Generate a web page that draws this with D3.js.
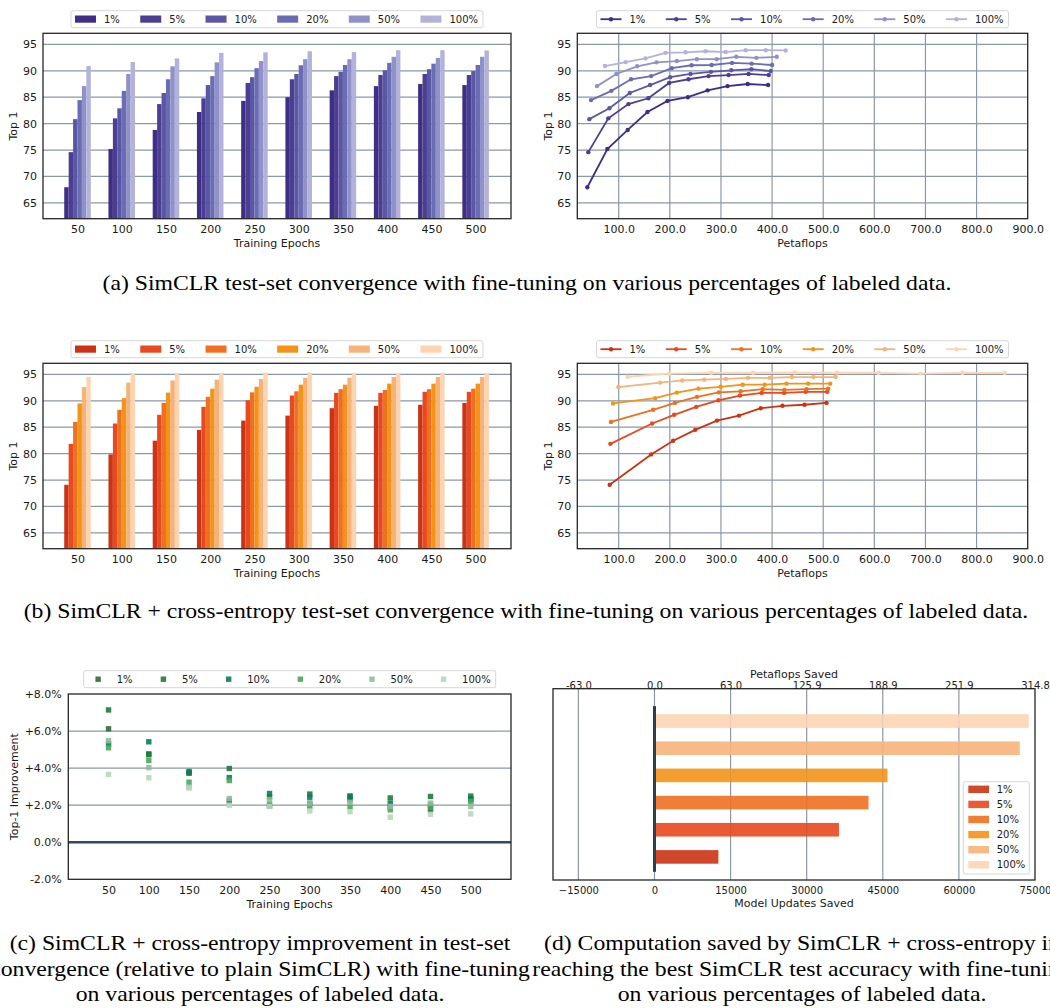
<!DOCTYPE html>
<html>
<head>
<meta charset="utf-8">
<script src="https://cdn.jsdelivr.net/npm/d3@7"></script>
<style>
  body { margin: 0; background: #fff; }
  .caption text { font-family: "Liberation Serif", "Times New Roman", Times, serif; }
</style>
</head>
<body>
<script>
// ---- data ----
const epochs = [50, 100, 150, 200, 250, 300, 350, 400, 450, 500];
const pctLabels = ["1%", "5%", "10%", "20%", "50%", "100%"];

// (a) SimCLR top-1 per fine-tuning percentage
const simclr1 = [67.96, 75.2, 78.8, 82.2, 84.3, 85.0, 86.3, 87.1, 87.5, 87.3];
const simclr5 = [74.6, 81.0, 83.7, 84.8, 87.7, 88.4, 89.0, 89.2, 89.4, 89.2];
const simclr10 = [80.85, 82.9, 85.8, 87.3, 88.8, 89.4, 89.8, 90.1, 90.3, 89.95];
const simclr20 = [84.45, 86.2, 88.4, 89.0, 90.5, 91.05, 91.1, 91.5, 91.35, 91.1];
const simclr50 = [87.1, 89.4, 90.85, 91.6, 91.85, 92.2, 92.2, 92.65, 92.45, 92.65];
const simclr100 = [90.9, 91.65, 92.35, 93.4, 93.5, 93.7, 93.55, 93.9, 93.9, 93.85];

// (a) petaflops at each checkpoint
const simclrFlops1 = [38.6, 77.8, 117.6, 156.2, 195.4, 235.3, 273.9, 313, 352.3, 392.2];
const simclrFlops5 = [40.5, 79.7, 119, 158, 198.7, 236.6, 275.8, 315, 354, 393.5];
const simclrFlops10 = [42.5, 81.7, 121.6, 161.4, 200.7, 240.5, 280.4, 320.3, 359.5, 397.4];
const simclrFlops20 = [45.8, 85.6, 124.2, 163.4, 203.9, 242.5, 281.7, 321.6, 360.1, 400];
const simclrFlops50 = [57.5, 95.4, 136, 173.9, 213.7, 252.9, 291.5, 330, 369.3, 409.2];
const simclrFlops100 = [73.2, 113.7, 152.3, 191.5, 230.7, 269.9, 309.2, 348.4, 387.6, 426.8];

// (b) SimCLR + cross-entropy top-1
const ce1 = [74.1, 79.85, 82.45, 84.5, 86.25, 87.2, 88.6, 89.05, 89.25, 89.6];
const ce5 = [81.85, 85.7, 87.35, 88.85, 90.1, 91.0, 91.5, 91.5, 91.7, 91.7];
const ce10 = [86.0, 88.3, 89.6, 90.75, 91.6, 91.8, 92.2, 92.05, 92.2, 92.3];
const ce20 = [89.5, 90.5, 91.55, 92.3, 92.65, 93.05, 93.05, 93.25, 93.25, 93.25];
const ce50 = [92.6, 93.45, 93.85, 94.0, 94.15, 94.35, 94.35, 94.5, 94.5, 94.5];
const ce100 = [94.55, 95.15, 95.3, 95.3, 95.35, 95.35, 95.3, 95.15, 95.3, 95.3];

const ceFlops1 = [82.4, 163.4, 206.5, 249.7, 292.2, 335.3, 377.8, 420.3, 463.4, 506.5];
const ceFlops5 = [83.7, 165.4, 208.5, 251.6, 294.8, 337.3, 379.7, 423.5, 466, 507.8];
const ceFlops10 = [85, 167.3, 209.8, 253, 296, 338.6, 381.7, 424.2, 467.3, 509.8];
const ceFlops20 = [88.9, 171.2, 213.7, 256.2, 299.3, 342.5, 385.6, 428.1, 470.6, 513.7];
const ceFlops50 = [99.3, 181, 224.2, 267.3, 309.8, 352.9, 395.4, 438.6, 481, 524.2];
const ceFlops100 = [117, 198.7, 281, 362.7, 444.4, 526.8, 608.5, 690.8, 772.5, 854.9];

// (c) top-1 improvement (%)
const gain1 = [6.12, 4.77, 3.73, 2.22, 1.95, 2.1, 2.3, 1.9, 1.75, 2.3];
const gain5 = [7.14, 4.72, 3.75, 3.98, 2.45, 2.6, 2.5, 2.39, 2.47, 2.49];
const gain10 = [5.31, 5.42, 3.82, 3.49, 2.63, 2.43, 2.45, 2.1, 2.0, 2.35];
const gain20 = [5.10, 4.41, 3.24, 3.33, 2.05, 1.93, 1.93, 1.75, 1.89, 2.2];
const gain50 = [5.48, 4.03, 3.0, 2.36, 2.29, 2.11, 2.15, 1.93, 2.11, 1.93];
const gain100 = [3.66, 3.48, 2.92, 2.0, 1.93, 1.69, 1.65, 1.35, 1.51, 1.53];

// (d) model updates saved
const updatesSaved = [12600, 36360, 42190, 45930, 71990, 73760];
const updateTicks = [-15000, 0, 15000, 30000, 45000, 60000, 75000];
const petaflopTickLabels = ["-63.0", "0.0", "63.0", "125.9", "188.9", "251.9", "314.8"];

const top1Ticks = [65, 70, 75, 80, 85, 90, 95];
const flopTicks = [100, 200, 300, 400, 500, 600, 700, 800, 900];
const gainTicks = [-2, 0, 2, 4, 6, 8];

const captionA = "(a) SimCLR test-set convergence with fine-tuning on various percentages of labeled data.";
const captionB = "(b) SimCLR + cross-entropy test-set convergence with fine-tuning on various percentages of labeled data.";
const captionC = ["(c) SimCLR + cross-entropy improvement in test-set",
                  "convergence (relative to plain SimCLR) with fine-tuning",
                  "on various percentages of labeled data."];
const captionD = ["(d) Computation saved by SimCLR + cross-entropy in",
                  "reaching the best SimCLR test accuracy with fine-tuning",
                  "on various percentages of labeled data."];

// ---- colours ----
const purples = ["#3f2e86", "#4c3f92", "#5a58a4", "#6a6db3", "#8f91c8", "#b3b2da"];
const oranges = ["#cc3315", "#e8491f", "#ef7021", "#f39318", "#f7b27a", "#fdd4b2"];
const greens = ["#2d6b3c", "#1e7b3c", "#087e5c", "#4ca657", "#8fbb9c", "#b8d6bc"];

const gridColor = "#8a99a8";
const frameColor = "#262626";
const textColor = "#1a1a1a";
const font = "DejaVu Sans, sans-serif";

const width = 1050, height = 1008;
const svg = d3.select("body").append("svg")
    .attr("width", width)
    .attr("height", height)
    .style("background", "#fff");

// ---- helpers ----
function styleAxis(sel, size) {
    sel.attr("font-family", font).attr("font-size", size);
    sel.select(".domain").remove();
    sel.selectAll(".tick line").remove();
    sel.selectAll("text").attr("fill", textColor);
}

function frame(g, box) {
    g.append("rect")
        .attr("x", box.x0).attr("y", box.y0)
        .attr("width", box.x1 - box.x0).attr("height", box.y1 - box.y0)
        .attr("fill", "none").attr("stroke", frameColor).attr("stroke-width", 1.3);
}

function hGrid(g, box, y, ticks) {
    g.append("g").selectAll("line").data(ticks).enter().append("line")
        .attr("x1", box.x0).attr("x2", box.x1)
        .attr("y1", d => y(d)).attr("y2", d => y(d))
        .attr("stroke", gridColor).attr("stroke-width", 1.2);
}

function vGrid(g, box, x, ticks) {
    g.append("g").selectAll("line").data(ticks).enter().append("line")
        .attr("y1", box.y0).attr("y2", box.y1)
        .attr("x1", d => x(d)).attr("x2", d => x(d))
        .attr("stroke", gridColor).attr("stroke-width", 1.2);
}

function yTitle(g, text, x, y) {
    g.append("text")
        .attr("transform", "translate(" + x + "," + y + ") rotate(-90)")
        .attr("text-anchor", "middle").attr("dy", "0.35em")
        .attr("font-family", font).attr("font-size", 11).attr("fill", textColor)
        .text(text);
}

function xTitle(g, text, x, y) {
    g.append("text")
        .attr("x", x).attr("y", y)
        .attr("text-anchor", "middle").attr("dy", "0.35em")
        .attr("font-family", font).attr("font-size", 11).attr("fill", textColor)
        .text(text);
}

// horizontal legend row, centred on cx
function hLegend(g, cx, top, colors, kind) {
    const lg = g.append("g");
    let x = 4;
    pctLabels.forEach((p, i) => {
        const it = lg.append("g").attr("transform", "translate(" + x + ",0)");
        if (kind === "rect") {
            it.append("rect").attr("x", 0).attr("y", 4.8).attr("width", 21).attr("height", 7.2)
                .attr("fill", colors[i]);
        } else if (kind === "line") {
            it.append("line").attr("x1", 0).attr("x2", 21).attr("y1", 8.5).attr("y2", 8.5)
                .attr("stroke", colors[i]).attr("stroke-width", 1.8);
            it.append("circle").attr("cx", 10.5).attr("cy", 8.5).attr("r", 2.2).attr("fill", colors[i]);
        } else {
            it.append("rect").attr("x", 10.5 - 2.7).attr("y", 8.5 - 2.7).attr("width", 5.4).attr("height", 5.4)
                .attr("fill", colors[i]).attr("opacity", 0.9);
        }
        const t = it.append("text").attr("x", 29).attr("y", 8.5).attr("dy", "0.35em")
            .attr("font-family", font).attr("font-size", 10).attr("fill", textColor).text(p);
        x += 29 + t.node().getComputedTextLength() + (i < pctLabels.length - 1 ? 20.4 : 5);
    });
    lg.insert("rect", ":first-child")
        .attr("width", x).attr("height", 17).attr("rx", 2)
        .attr("fill", "#fff").attr("stroke", "#cccccc").attr("stroke-width", 0.8);
    lg.attr("transform", "translate(" + (cx - x / 2) + "," + top + ")");
}

// ---- bar panel (training epochs) ----
function barPanel(box, series, colors, legendTop) {
    const g = svg.append("g");
    const x = d3.scaleLinear().domain([-0.78, 9.8]).range([box.x0, box.x1]);
    const y = d3.scaleLinear().domain([62, 97.1]).range([box.y1, box.y0]);
    const bw = 0.1;

    hGrid(g, box, y, top1Ticks);

    series.forEach((vals, k) => {
        g.append("g").selectAll("rect").data(vals).enter().append("rect")
            .attr("x", (d, i) => x(i + (k - 3) * bw))
            .attr("width", x(bw) - x(0))
            .attr("y", d => y(d))
            .attr("height", d => box.y1 - y(d))
            .attr("fill", colors[k]);
    });

    frame(g, box);

    g.append("g").attr("transform", "translate(" + box.x0 + ",0)")
        .call(d3.axisLeft(y).tickValues(top1Ticks).tickSize(0).tickPadding(6))
        .call(s => styleAxis(s, 11));
    g.append("g").attr("transform", "translate(0," + box.y1 + ")")
        .call(d3.axisBottom(x).tickValues(d3.range(epochs.length)).tickFormat(i => epochs[i]).tickSize(0).tickPadding(7))
        .call(s => styleAxis(s, 11));

    yTitle(g, "Top 1", box.x0 - 29.7, (box.y0 + box.y1) / 2);
    xTitle(g, "Training Epochs", (box.x0 + box.x1) / 2, box.y1 + 24.6);
    hLegend(g, (box.x0 + box.x1) / 2, legendTop, colors, "rect");
}

// ---- line panel (petaflops) ----
function linePanel(box, series, flops, colors, legendTop) {
    const g = svg.append("g");
    const x = d3.scaleLinear().domain([19, 900]).range([box.x0, box.x1]);
    const y = d3.scaleLinear().domain([62, 97.1]).range([box.y1, box.y0]);

    hGrid(g, box, y, top1Ticks);
    vGrid(g, box, x, flopTicks.slice(0, -1));

    series.forEach((vals, k) => {
        const pts = vals.map((v, i) => [flops[k][i], v]);
        g.append("path")
            .attr("d", d3.line().x(d => x(d[0])).y(d => y(d[1]))(pts))
            .attr("fill", "none").attr("stroke", colors[k]).attr("stroke-width", 1.8);
        g.append("g").selectAll("circle").data(pts).enter().append("circle")
            .attr("cx", d => x(d[0])).attr("cy", d => y(d[1])).attr("r", 2.2)
            .attr("fill", colors[k]);
    });

    frame(g, box);

    g.append("g").attr("transform", "translate(" + box.x0 + ",0)")
        .call(d3.axisLeft(y).tickValues(top1Ticks).tickSize(0).tickPadding(6))
        .call(s => styleAxis(s, 11));
    g.append("g").attr("transform", "translate(0," + box.y1 + ")")
        .call(d3.axisBottom(x).tickValues(flopTicks).tickFormat(d3.format(".1f")).tickSize(0).tickPadding(7))
        .call(s => styleAxis(s, 11));

    yTitle(g, "Top 1", box.x0 - 29, (box.y0 + box.y1) / 2);
    xTitle(g, "Petaflops", (box.x0 + box.x1) / 2, box.y1 + 24);
    hLegend(g, (box.x0 + box.x1) / 2, legendTop, colors, "line");
}

// ---- scatter panel (improvement) ----
function gainPanel(box, series, colors, legendTop) {
    const g = svg.append("g");
    const x = d3.scaleLinear().domain([0, 550]).range([box.x0, box.x1]);
    const y = d3.scaleLinear().domain([-2, 8]).range([box.y1, box.y0]);

    hGrid(g, box, y, [2, 4, 6]);
    g.append("line")
        .attr("x1", box.x0).attr("x2", box.x1).attr("y1", y(0)).attr("y2", y(0))
        .attr("stroke", "#34495a").attr("stroke-width", 2.6);

    const s = 5.4;
    series.forEach((vals, k) => {
        g.append("g").selectAll("rect").data(vals).enter().append("rect")
            .attr("x", (d, i) => x(epochs[i]) - s / 2)
            .attr("y", d => y(d) - s / 2)
            .attr("width", s).attr("height", s)
            .attr("fill", colors[k]).attr("opacity", 0.9);
    });

    frame(g, box);

    const fmt = d => (d > 0 ? "+" : d < 0 ? "-" : "") + Math.abs(d).toFixed(1) + "%";
    g.append("g").attr("transform", "translate(" + box.x0 + ",0)")
        .call(d3.axisLeft(y).tickValues(gainTicks).tickFormat(fmt).tickSize(0).tickPadding(6.5))
        .call(a => styleAxis(a, 11));
    g.append("g").attr("transform", "translate(0," + box.y1 + ")")
        .call(d3.axisBottom(x).tickValues(epochs).tickSize(0).tickPadding(7))
        .call(a => styleAxis(a, 11));

    yTitle(g, "Top-1 Improvement", box.x0 - 54.3, (box.y0 + box.y1) / 2);
    xTitle(g, "Training Epochs", (box.x0 + box.x1) / 2, box.y1 + 24.7);
    hLegend(g, (box.x0 + box.x1) / 2, legendTop, colors, "square");
}

// ---- horizontal bar panel (computation saved) ----
function savedPanel(box, vals, colors) {
    const g = svg.append("g");
    const x = d3.scaleLinear().domain([-20000, 75000]).range([box.x0, box.x1]);
    const y = d3.scaleLinear().domain([-0.85, 6.19]).range([box.y1, box.y0]);
    const bh = 0.5;

    vGrid(g, box, x, updateTicks.slice(0, -1));

    g.append("g").selectAll("rect").data(vals).enter().append("rect")
        .attr("x", x(0))
        .attr("width", d => x(d) - x(0))
        .attr("y", (d, i) => y(i + bh / 2))
        .attr("height", y(0) - y(bh))
        .attr("fill", (d, i) => colors[i]).attr("opacity", 0.9);

    g.append("line")
        .attr("x1", x(0)).attr("x2", x(0)).attr("y1", y(5.55)).attr("y2", y(-0.55))
        .attr("stroke", "#2c3f4c").attr("stroke-width", 3);

    frame(g, box);

    g.append("g").attr("transform", "translate(0," + box.y1 + ")")
        .call(d3.axisBottom(x).tickValues(updateTicks).tickFormat(d3.format("d")).tickSize(0).tickPadding(6.5))
        .call(a => styleAxis(a, 10));
    g.append("g").attr("transform", "translate(0," + box.y0 + ")")
        .call(d3.axisTop(x).tickValues(updateTicks).tickFormat((d, i) => petaflopTickLabels[i]).tickSize(0).tickPadding(0))
        .call(a => styleAxis(a, 10));

    xTitle(g, "Model Updates Saved", (box.x0 + box.x1) / 2, box.y1 + 23);
    xTitle(g, "Petaflops Saved", (box.x0 + box.x1) / 2, box.y0 - 14.5);

    // vertical legend, lower right
    const lg = g.append("g").attr("transform", "translate(963.3,781.7)");
    lg.append("rect").attr("width", 66).attr("height", 92.3).attr("rx", 2)
        .attr("fill", "#fff").attr("fill-opacity", 0.85).attr("stroke", "#cccccc").attr("stroke-width", 0.8);
    pctLabels.forEach((p, i) => {
        const cy = 7.6 + i * 15.1;
        lg.append("rect").attr("x", 5).attr("y", cy - 3.7).attr("width", 20.7).attr("height", 7.4)
            .attr("fill", colors[i]).attr("opacity", 0.9);
        lg.append("text").attr("x", 33.4).attr("y", cy).attr("dy", "0.35em")
            .attr("font-family", font).attr("font-size", 10).attr("fill", textColor).text(p);
    });
}

// ---- draw panels ----
barPanel({x0: 43, x1: 511, y0: 33.3, y1: 218.7},
    [simclr1, simclr5, simclr10, simclr20, simclr50, simclr100], purples, 10.7);
linePanel({x0: 577.3, x1: 1027.7, y0: 33.3, y1: 218.7},
    [simclr1, simclr5, simclr10, simclr20, simclr50, simclr100],
    [simclrFlops1, simclrFlops5, simclrFlops10, simclrFlops20, simclrFlops50, simclrFlops100], purples, 10.7);
barPanel({x0: 43, x1: 511, y0: 363.3, y1: 548.7},
    [ce1, ce5, ce10, ce20, ce50, ce100], oranges, 340.7);
linePanel({x0: 577.3, x1: 1027.7, y0: 363.3, y1: 548.7},
    [ce1, ce5, ce10, ce20, ce50, ce100],
    [ceFlops1, ceFlops5, ceFlops10, ceFlops20, ceFlops50, ceFlops100], oranges, 340.7);
gainPanel({x0: 68.3, x1: 511, y0: 694, y1: 879.3},
    [gain1, gain5, gain10, gain20, gain50, gain100], greens, 670.7);
savedPanel({x0: 553, x1: 1035, y0: 688.7, y1: 880}, updatesSaved, oranges);

// ---- captions ----
const capG = svg.append("g").attr("class", "caption")
    .attr("font-size", 22).attr("fill", "#000");
const probe = capG.append("text").text(captionA);
const squeeze = 849 / probe.node().getComputedTextLength();
probe.remove();

const capLines = [
    {t: captionA, x: 527, y: 290},
    {t: captionB, x: 526, y: 618},
    {t: captionC[0], x: 260, y: 950},
    {t: captionC[1], x: 260, y: 975.5},
    {t: captionC[2], x: 260, y: 1001},
    {t: captionD[0], x: 802, y: 950},
    {t: captionD[1], x: 802, y: 975.5},
    {t: captionD[2], x: 802, y: 1001}
];
capLines.forEach(c => {
    const t = capG.append("text").attr("x", c.x).attr("y", c.y)
        .attr("text-anchor", "middle").text(c.t);
    const w = t.node().getComputedTextLength();
    t.attr("textLength", w * squeeze).attr("lengthAdjust", "spacingAndGlyphs");
});
</script>
</body>
</html>
